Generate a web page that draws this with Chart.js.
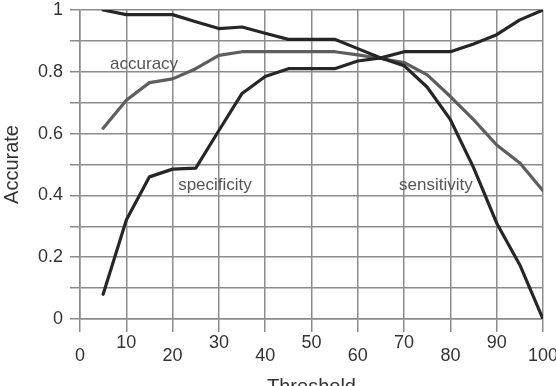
<!DOCTYPE html>
<html>
<head>
<meta charset="utf-8">
<script src="https://cdn.jsdelivr.net/npm/chart.js@4/dist/chart.umd.min.js"></script>
<style>
  html, body { margin: 0; padding: 0; background: #ffffff; }
  #wrap { width: 556px; height: 386px; overflow: hidden; }
</style>
</head>
<body>
<div id="wrap"><canvas id="c" width="556" height="386"></canvas></div>
<script>
// ---- data ----
const thresholds  = [5, 10, 15, 20, 25, 30, 35, 40, 45, 50, 55, 60, 65, 70, 75, 80, 85, 90, 95, 100];
const sensitivity = [1.0, 0.985, 0.985, 0.985, 0.962, 0.94, 0.945, 0.925, 0.905, 0.905, 0.905, 0.875, 0.845, 0.82, 0.75, 0.645, 0.49, 0.31, 0.175, 0.0];
const specificity = [0.08, 0.32, 0.46, 0.485, 0.488, 0.61, 0.73, 0.785, 0.81, 0.81, 0.81, 0.835, 0.845, 0.865, 0.865, 0.865, 0.89, 0.92, 0.968, 1.0];
const accuracy    = [0.617, 0.708, 0.765, 0.777, 0.81, 0.853, 0.865, 0.865, 0.865, 0.865, 0.865, 0.855, 0.843, 0.83, 0.79, 0.72, 0.645, 0.563, 0.505, 0.415];

const xTickLabels = ['0', '10', '20', '30', '40', '50', '60', '70', '80', '90', '100'];
const yTickLabels = ['0', '', '0.2', '', '0.4', '', '0.6', '', '0.8', '', '1'];

const seriesNames = ['sensitivity', 'specificity', 'accuracy'];

// in-plot text labels (anchored in data units)
const annotations = [
  { text: 'accuracy',    x: 6.5,  y: 0.825 },
  { text: 'specificity', x: 21.2, y: 0.434 },
  { text: 'sensitivity', x: 68.9, y: 0.434 }
];

function toPoints(ys) { return thresholds.map((t, i) => ({ x: t, y: ys[i] })); }

const GRID = '#8c8c8c';
const TICKFONT = { family: 'Liberation Sans, Arial, sans-serif', size: 18 };

const annotationPlugin = {
  id: 'annot',
  afterDatasetsDraw(chart) {
    const { ctx, scales } = chart;
    ctx.save();
    ctx.font = '17px "Liberation Sans", Arial, sans-serif';
    ctx.fillStyle = '#555555';
    ctx.textAlign = 'left';
    ctx.textBaseline = 'middle';
    annotations.forEach(a => {
      ctx.fillText(a.text, scales.x.getPixelForValue(a.x), scales.y.getPixelForValue(a.y));
    });
    ctx.restore();
  }
};

new Chart(document.getElementById('c'), {
  type: 'line',
  data: {
    datasets: [
      { label: seriesNames[0], data: toPoints(sensitivity), borderColor: '#262626', borderWidth: 3.2 },
      { label: seriesNames[1], data: toPoints(specificity), borderColor: '#262626', borderWidth: 3.2 },
      { label: seriesNames[2], data: toPoints(accuracy),    borderColor: '#5e5e5e', borderWidth: 3.2 }
    ]
  },
  options: {
    responsive: false,
    animation: false,
    devicePixelRatio: 1,
    layout: { padding: { top: 10, right: 13, left: 0, bottom: 0 } },
    elements: { point: { radius: 0 }, line: { tension: 0, borderJoinStyle: 'round', borderCapStyle: 'round' } },
    plugins: { legend: { display: false }, tooltip: { enabled: false } },
    scales: {
      x: {
        type: 'linear',
        min: 0, max: 100,
        afterFit(s) { s.height = 67; s.paddingLeft = 0; s.paddingRight = 0; },
        grid: { color: GRID, lineWidth: 1.5, tickLength: 13, tickColor: GRID },
        border: { color: GRID, width: 1.5 },
        ticks: {
          stepSize: 10, autoSkip: false, maxRotation: 0, minRotation: 0,
          padding: 5, color: '#333333',
          font: { ...TICKFONT, lineHeight: 0.72 },
          callback(v) {
            const i = Math.round(v / 10);
            const t = xTickLabels[i];
            return i % 2 === 1 ? [t, ''] : ['', t];
          }
        },
        title: {
          display: true, text: 'Threshold', color: '#333333',
          font: { family: 'Liberation Sans, Arial, sans-serif', size: 20, lineHeight: 1 },
          padding: { top: 0, bottom: -11 }
        }
      },
      y: {
        min: 0, max: 1,
        afterFit(s) { s.width = 80; s.paddingTop = 0; s.paddingBottom = 0; },
        grid: { color: GRID, lineWidth: 1.5, tickLength: 10, tickColor: GRID },
        border: { color: GRID, width: 1.5 },
        ticks: {
          stepSize: 0.1, autoSkip: false, padding: 7, color: '#333333',
          font: TICKFONT,
          callback(v) { return yTickLabels[Math.round(v * 10)]; }
        },
        title: {
          display: true, text: 'Accurate', color: '#333333',
          font: { family: 'Liberation Sans, Arial, sans-serif', size: 20, lineHeight: 1 },
          padding: { top: 2, bottom: 0 }
        }
      }
    }
  },
  plugins: [annotationPlugin]
});
</script>
</body>
</html>
